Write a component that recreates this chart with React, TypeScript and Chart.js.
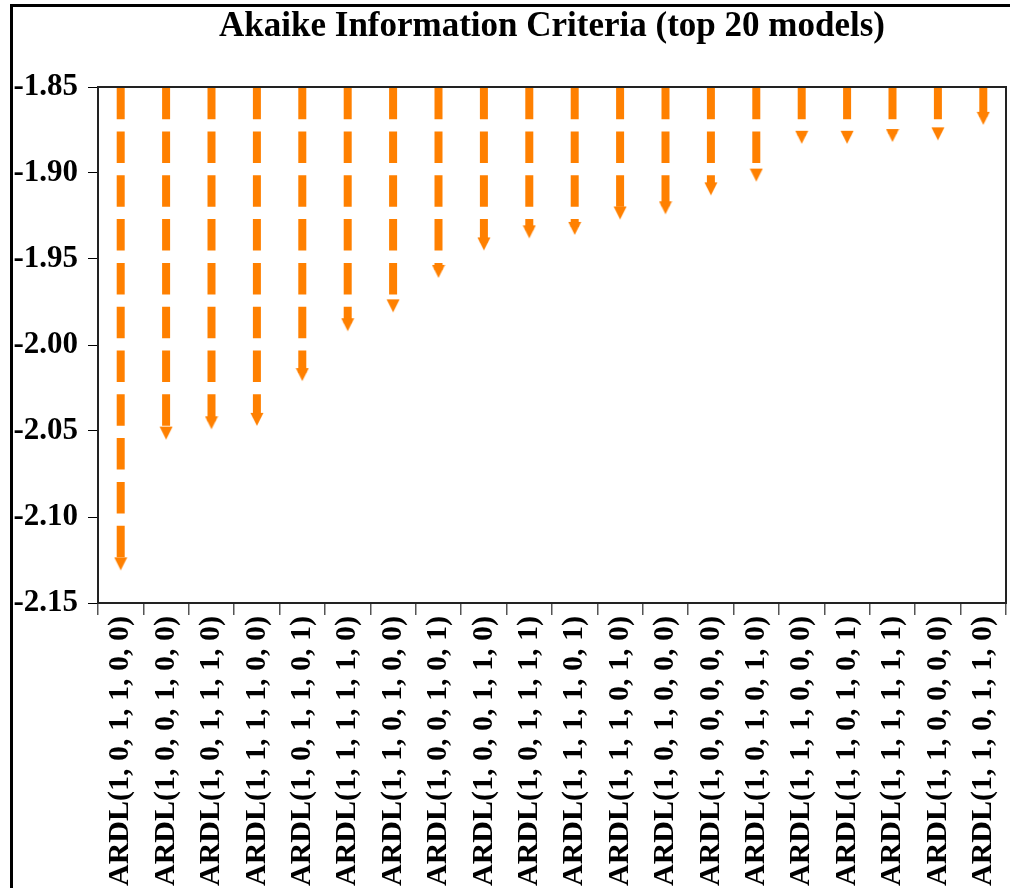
import React, { useEffect, useRef } from "react";
import { Chart, registerables } from "chart.js";

Chart.register(...registerables);

const TITLE = "Akaike Information Criteria (top 20 models)";

const models = [
  "ARDL(1, 0, 1, 1, 0, 0)",
  "ARDL(1, 0, 0, 1, 0, 0)",
  "ARDL(1, 0, 1, 1, 1, 0)",
  "ARDL(1, 1, 1, 1, 0, 0)",
  "ARDL(1, 0, 1, 1, 0, 1)",
  "ARDL(1, 1, 1, 1, 1, 0)",
  "ARDL(1, 1, 0, 1, 0, 0)",
  "ARDL(1, 0, 0, 1, 0, 1)",
  "ARDL(1, 0, 0, 1, 1, 0)",
  "ARDL(1, 0, 1, 1, 1, 1)",
  "ARDL(1, 1, 1, 1, 0, 1)",
  "ARDL(1, 1, 1, 0, 1, 0)",
  "ARDL(1, 0, 1, 0, 0, 0)",
  "ARDL(1, 0, 0, 0, 0, 0)",
  "ARDL(1, 0, 1, 0, 1, 0)",
  "ARDL(1, 1, 1, 0, 0, 0)",
  "ARDL(1, 1, 0, 1, 0, 1)",
  "ARDL(1, 1, 1, 1, 1, 1)",
  "ARDL(1, 1, 0, 0, 0, 0)",
  "ARDL(1, 1, 0, 1, 1, 0)",
];

const aicValues = [
  -2.131, -2.055, -2.049, -2.047, -2.021, -1.992, -1.981, -1.961, -1.945, -1.938,
  -1.936, -1.927, -1.924, -1.913, -1.905, -1.883, -1.883, -1.882, -1.881, -1.872,
];

const Y_MIN = -2.15;
const Y_MAX = -1.85;
const Y_STEP = 0.05;

const ORANGE = "#FF8000";
const FONT = "'Liberation Serif', 'Times New Roman', serif";

function makeArrow(): HTMLCanvasElement {
  const c = document.createElement("canvas");
  c.width = 14;
  c.height = 28;
  const ctx = c.getContext("2d")!;
  ctx.fillStyle = ORANGE;
  ctx.beginPath();
  ctx.moveTo(0.5, 1);
  ctx.lineTo(13.5, 1);
  ctx.lineTo(7, 14);
  ctx.closePath();
  ctx.fill();
  return c;
}

const stemPlugin = {
  id: "stems",
  beforeDatasetsDraw(chart: any) {
    const { ctx, chartArea } = chart;
    const meta = chart.getDatasetMeta(0);
    ctx.save();
    ctx.strokeStyle = ORANGE;
    ctx.lineWidth = 8;
    ctx.lineCap = "butt";
    ctx.setLineDash([31.5, 12.3]);
    meta.data.forEach((pt: any) => {
      ctx.beginPath();
      ctx.moveTo(pt.x, chartArea.top + 0.7);
      ctx.lineTo(pt.x, pt.y - 8);
      ctx.stroke();
    });
    ctx.restore();
  },
};

const framePlugin = {
  id: "frame",
  afterDraw(chart: any) {
    const { ctx, chartArea } = chart;
    ctx.save();
    ctx.strokeStyle = "#222";
    ctx.lineWidth = 2;
    ctx.strokeRect(
      chartArea.left,
      chartArea.top,
      chartArea.right - chartArea.left,
      chartArea.bottom - chartArea.top
    );
    ctx.restore();
  },
};

export default function App() {
  const ref = useRef<HTMLCanvasElement | null>(null);

  useEffect(() => {
    if (!ref.current) return;
    const arrow = makeArrow();
    const chart = new Chart(ref.current, {
      type: "line",
      data: {
        labels: models,
        datasets: [
          {
            data: aicValues,
            showLine: false,
            pointStyle: arrow as any,
            pointRadius: 7,
            pointHoverRadius: 7,
          },
        ],
      },
      options: {
        responsive: false,
        animation: false,
        events: [],
        layout: { padding: 0 },
        plugins: {
          legend: { display: false },
          tooltip: { enabled: false },
          title: {
            display: true,
            text: TITLE,
            fullSize: false,
            color: "#000",
            font: { family: FONT, size: 35, weight: "bold" },
            padding: { top: 6, bottom: 39 },
          },
        },
        scales: {
          x: {
            type: "category",
            offset: true,
            grid: {
              offset: true,
              drawOnChartArea: false,
              drawTicks: true,
              tickLength: 12,
              color: "#555",
              lineWidth: 1.5,
            },
            border: { display: false },
            ticks: {
              autoSkip: false,
              minRotation: 90,
              maxRotation: 90,
              padding: 1,
              color: "#000",
              font: { family: FONT, size: 30, weight: "bold" },
            },
            afterFit(scale: any) {
              scale.height = 397;
              scale.paddingLeft = 0;
              scale.paddingRight = 0;
            },
          },
          y: {
            min: Y_MIN,
            max: Y_MAX,
            grid: {
              drawOnChartArea: false,
              drawTicks: true,
              tickLength: 10,
              color: "#000",
              lineWidth: 1,
            },
            border: { display: false },
            ticks: {
              stepSize: Y_STEP,
              padding: 10,
              color: "#000",
              font: { family: FONT, size: 31, weight: "bold" },
              callback: (v: any) => Number(v).toFixed(2),
            },
            afterFit(scale: any) {
              scale.width = 98;
              scale.paddingTop = 0;
              scale.paddingBottom = 0;
            },
          },
        },
      },
      plugins: [stemPlugin, framePlugin],
    });
    return () => chart.destroy();
  }, []);

  return (
    <div
      style={{
        position: "fixed",
        left: 0,
        top: 0,
        width: 1010,
        height: 888,
        overflow: "hidden",
        background: "#fff",
      }}
    >
      <div
        style={{
          position: "absolute",
          left: 10,
          top: 4,
          width: 2000,
          height: 2000,
          border: "3px solid #000",
        }}
      />
      <canvas
        ref={ref}
        width={1014}
        height={1000}
        style={{ position: "absolute", left: 0, top: 0, width: 1014, height: 1000 }}
      />
    </div>
  );
}
